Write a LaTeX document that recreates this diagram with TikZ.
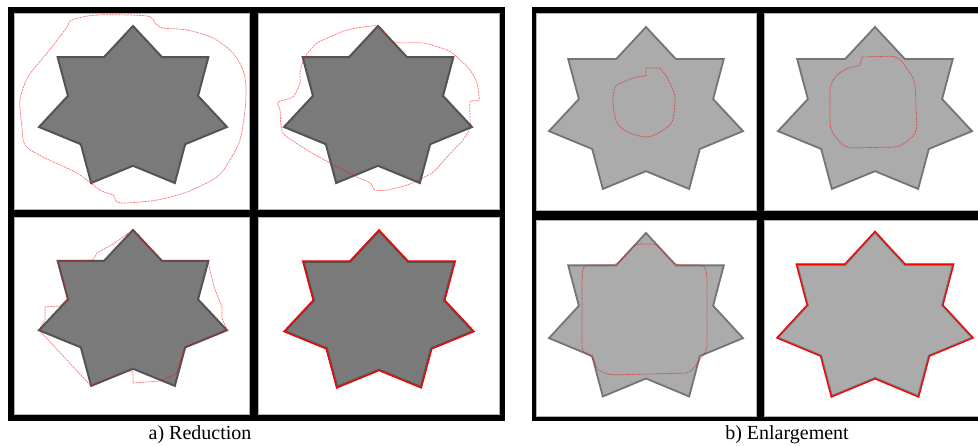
\documentclass[tikz,border=0pt]{standalone}
\usepackage{fontspec}
\setmainfont{Liberation Serif}
\definecolor{darkfill}{HTML}{7A7A7A}
\definecolor{darkedge}{HTML}{545454}
\definecolor{lightfill}{HTML}{ABABAB}
\definecolor{lightedge}{HTML}{747474}
\definecolor{celledge}{HTML}{B4B4B4}
\newcommand\drawstar[5][]{%
  \draw[#1] plot[samples at={0,...,13},variable=\k]
    ({#2+(1-0.308*mod(\k,2))*#4*cos(90+\k*360/14)},
     {#3-(1-0.308*mod(\k,2))*#5*sin(90+\k*360/14)}) -- cycle;}
\begin{document}
\begin{tikzpicture}[x=1pt,y=-1pt,
  framebox/.style={fill=black},
  cellbox/.style={fill=white,draw=celledge,line width=0.8pt},
  darkstar/.style={fill=darkfill,draw=darkedge,line width=2pt,line join=miter},
  lightstar/.style={fill=lightfill,draw=lightedge,line width=1.8pt,line join=miter},
  faintred/.style={draw=red,opacity=0.55,line width=0.7pt,dash pattern=on 2.2pt off 0.8pt},
  solidred/.style={draw=red,line width=1.3pt,line join=miter},
  caption/.style={font=\fontsize{20}{24}\selectfont,anchor=base,inner sep=0pt}]
\useasboundingbox (0,0) rectangle (978,446);
\clip (0,0) rectangle (978,446);
\fill[white] (0,0) rectangle (978,446);

% ---- panel a) frame
\fill[framebox] (8,7) rectangle (505,421);
\draw[cellbox] (14,13) rectangle (249,209);
\draw[cellbox] (258,13) rectangle (499,209);
\draw[cellbox] (14,217) rectangle (249,414);
\draw[cellbox] (258,217) rectangle (499,414);

% ---- panel b) frame
\fill[framebox] (532,7) rectangle (992,421);
\draw[cellbox] (536,13) rectangle (756,210);
\draw[cellbox] (764,13) rectangle (986,210);
\draw[cellbox] (536,220) rectangle (756,416);
\draw[cellbox] (764,220) rectangle (986,416);

% ---- stars of panel a)
\drawstar[darkstar]{133}{108.6}{96.4}{82.6}
\drawstar[darkstar]{378}{108.6}{96.4}{82.6}
\drawstar[darkstar]{133}{312}{96.4}{82}
\drawstar[darkstar]{379}{313}{96.4}{82}

% ---- stars of panel b)
\drawstar[lightstar]{646}{112.2}{99.5}{85.2}
\drawstar[lightstar]{875}{112.2}{99.5}{85.2}
\drawstar[lightstar]{646}{319}{99.5}{86}
\drawstar[lightstar]{875}{318.5}{99.5}{86}

% ---- contours of panel a)
\draw[faintred] plot[smooth cycle,tension=0.5] coordinates {
 (72,20) (97,15) (147,16) (155,23) (163,28) (187,30) (213,38) (233,53)
 (243,70) (246,87) (245,110) (240,140) (230,160) (217,177) (187,192)
 (157,200) (127,203) (117,202) (113,195) (100,190) (77,173) (43,157)
 (25,145) (22,127) (20,100) (28,77) (43,58) (55,43) (67,27)};
\draw[faintred] plot[smooth cycle,tension=0.4] coordinates {
 (330,37) (347,30) (378,26) (393,42) (423,43) (447,50) (457,57) (470,70)
 (477,83) (479,100) (470,102) (470,127) (463,140) (447,157) (432,173)
 (407,185) (387,190) (375,190) (370,183) (357,177) (330,163) (307,150)
 (283,133) (280,110) (278,102) (293,97) (300,83) (300,72) (305,57) (317,43)};
\draw[faintred] (133,230) -- (113,244) -- (97,253) -- (93,260) -- (58,261)
 -- (68,299) -- (60,306) -- (45,307) -- (45,320) -- (39,330) -- (91,386)
 -- (128,371) -- (133,371) -- (133,383) -- (160,381) -- (176,374)
 -- (185,347) -- (227,330) -- (222,318) -- (222,307) -- (214,287)
 -- (210,270) -- (208,261) -- (162,261) -- cycle;
\drawstar[solidred]{379}{313}{97.6}{83.2}

% ---- contours of panel b)
\draw[faintred] (646,76) -- (646,68) -- (660,68) -- (667,77)
 -- plot[smooth,tension=0.5] coordinates {(667,77) (673,90) (675,100) (672,122)
 (660,132) (647,137) (630,133) (617,123) (613,103) (615,87) (623,82)
 (637,77) (646,76)};
\draw[faintred,rounded corners=7pt] (862,57) -- (898,56) -- (915,80)
 -- (917,133) -- (900,147) -- (845,148) -- (830,130) -- (830,83)
 -- (842,70) [sharp corners] -- (860,65) -- cycle;
\draw[faintred,rounded corners=5pt] (582,280) -- (583,265) -- (616,265)
 -- (636,244) -- (656,244) -- (676,265) -- (705,265) -- (707,275)
 -- (707,350) -- (690,373) -- (610,375) -- (597,370) -- (593,357)
 -- (582,352) -- cycle;
\drawstar[solidred]{875}{318.5}{100.7}{87.2}

% ---- captions
\node[caption] (capA) at (200,439) {a) Reduction};
\node[caption] (capB) at (787,439) {b) Enlargement};
\end{tikzpicture}
\end{document}
